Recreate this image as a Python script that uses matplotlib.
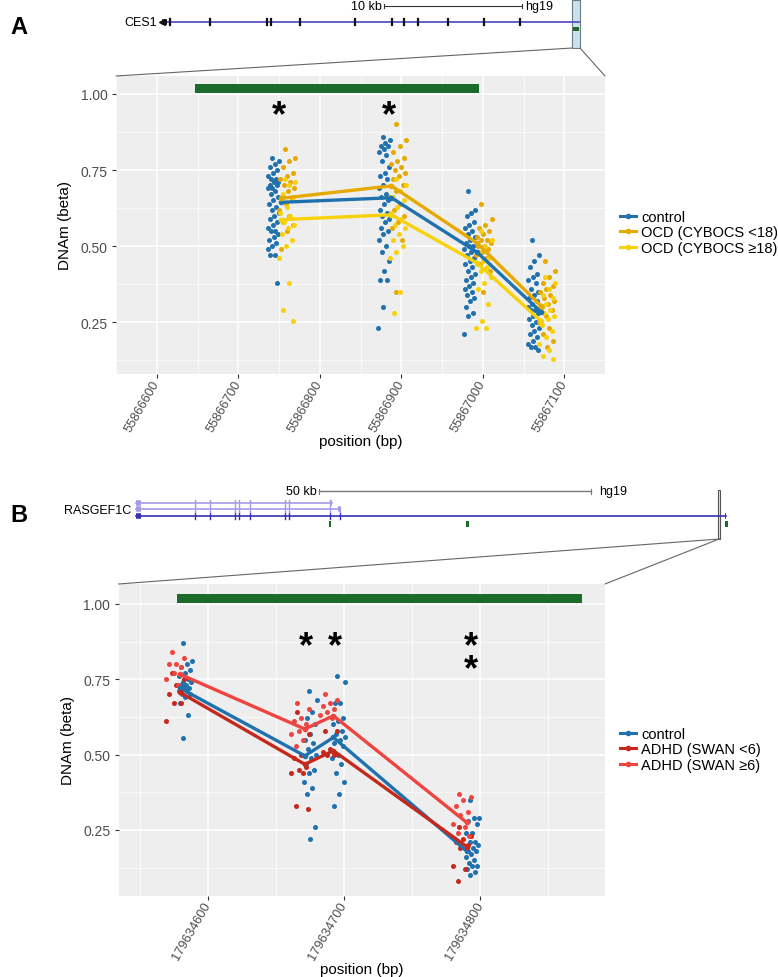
import matplotlib
matplotlib.use("Agg")
import matplotlib.pyplot as plt
from matplotlib.lines import Line2D
from matplotlib.patches import Rectangle, ConnectionPatch
import numpy as np

plt.rcParams['font.family'] = ['Liberation Sans', 'DejaVu Sans']

# ---------------- panel A : CES1 / OCD ----------------
a_cpg = [55866752, 55866888, 55866993, 55867071]
a_ctrl = [
    [0.79, 0.78, 0.77, 0.76, 0.75, 0.74, 0.73, 0.72, 0.72, 0.71, 0.71, 0.70, 0.70, 0.69, 0.69, 0.68, 0.67, 0.66, 0.65, 0.64,
     0.63, 0.62, 0.61, 0.60, 0.59, 0.58, 0.57, 0.56, 0.55, 0.55, 0.54, 0.53, 0.52, 0.51, 0.50, 0.49, 0.47, 0.47, 0.38],
    [0.86, 0.85, 0.84, 0.83, 0.83, 0.82, 0.81, 0.80, 0.78, 0.76, 0.74, 0.73, 0.72, 0.70, 0.69, 0.67, 0.66, 0.65, 0.64,
     0.62, 0.61, 0.60, 0.59, 0.58, 0.56, 0.55, 0.54, 0.52, 0.50, 0.48, 0.45, 0.42, 0.39, 0.39, 0.30, 0.23],
    [0.68, 0.62, 0.61, 0.60, 0.58, 0.57, 0.56, 0.55, 0.54, 0.53, 0.52, 0.51, 0.50, 0.50, 0.49, 0.48, 0.47, 0.46, 0.45,
     0.44, 0.43, 0.42, 0.41, 0.40, 0.39, 0.38, 0.37, 0.36, 0.35, 0.34, 0.33, 0.32, 0.30, 0.28, 0.27, 0.21],
    [0.52, 0.47, 0.45, 0.43, 0.41, 0.40, 0.39, 0.38, 0.36, 0.35, 0.34, 0.33, 0.32, 0.31, 0.30, 0.29, 0.29, 0.28, 0.27,
     0.26, 0.25, 0.24, 0.23, 0.22, 0.21, 0.20, 0.19, 0.18, 0.17, 0.17, 0.16],
]
a_ocd_lo = [
    [0.82, 0.79, 0.78, 0.76, 0.74, 0.73, 0.72, 0.71, 0.70, 0.69, 0.68, 0.66, 0.65, 0.64, 0.62, 0.60, 0.58, 0.57, 0.55, 0.49],
    [0.90, 0.85, 0.83, 0.81, 0.79, 0.78, 0.77, 0.76, 0.75, 0.74, 0.73, 0.72, 0.70, 0.68, 0.66, 0.64, 0.62, 0.60, 0.58,
     0.56, 0.52, 0.35],
    [0.64, 0.59, 0.57, 0.56, 0.55, 0.54, 0.53, 0.52, 0.52, 0.51, 0.50, 0.50, 0.49, 0.48, 0.47, 0.46, 0.44, 0.42, 0.35],
    [0.45, 0.42, 0.40, 0.38, 0.37, 0.36, 0.35, 0.34, 0.33, 0.32, 0.31, 0.30, 0.29, 0.27, 0.25, 0.23, 0.21, 0.19, 0.17],
]
a_ocd_hi = [
    [0.72, 0.71, 0.70, 0.67, 0.66, 0.63, 0.61, 0.60, 0.58, 0.57, 0.56, 0.54, 0.52, 0.50, 0.46, 0.38, 0.29, 0.255],
    [0.72, 0.70, 0.68, 0.66, 0.65, 0.63, 0.61, 0.59, 0.57, 0.56, 0.54, 0.52, 0.50, 0.48, 0.46, 0.35, 0.28],
    [0.55, 0.52, 0.50, 0.48, 0.46, 0.45, 0.44, 0.43, 0.42, 0.40, 0.38, 0.36, 0.31, 0.255, 0.23, 0.23],
    [0.40, 0.38, 0.36, 0.34, 0.33, 0.31, 0.30, 0.29, 0.28, 0.27, 0.26, 0.24, 0.22, 0.20, 0.18, 0.16, 0.14, 0.13],
]
a_ctrl_mean = [0.644, 0.659, 0.48, 0.285]
a_ocd_lo_mean = [0.657, 0.698, 0.51, 0.305]
a_ocd_hi_mean = [0.587, 0.603, 0.445, 0.255]
a_region = [55866647, 55866996]
a_stars = [(55866750, 1), (55866885, 1)]
a_xticks = [55866600, 55866700, 55866800, 55866900, 55867000, 55867100]
a_labels = ['control', 'OCD (CYBOCS <18)', 'OCD (CYBOCS \u226518)']

# ---------------- panel B : RASGEF1C / ADHD ----------------
b_cpg = [179634579, 179634671, 179634692, 179634790]
b_ctrl = [
    [0.87, 0.81, 0.80, 0.79, 0.78, 0.77, 0.76, 0.75, 0.74, 0.74, 0.73, 0.73, 0.72, 0.72, 0.71, 0.71, 0.70, 0.70, 0.69,
     0.67, 0.63, 0.555],
    [0.71, 0.68, 0.64, 0.62, 0.60, 0.57, 0.55, 0.54, 0.52, 0.50, 0.49, 0.47, 0.45, 0.44, 0.41, 0.39, 0.37, 0.26, 0.22],
    [0.76, 0.74, 0.67, 0.67, 0.62, 0.61, 0.60, 0.58, 0.57, 0.56, 0.55, 0.54, 0.53, 0.50, 0.49, 0.47, 0.44, 0.41, 0.37, 0.33],
    [0.35, 0.29, 0.29, 0.28, 0.27, 0.24, 0.24, 0.21, 0.21, 0.20, 0.19, 0.18, 0.18, 0.17, 0.16, 0.15, 0.14, 0.13, 0.13,
     0.12, 0.11, 0.10],
]
b_adhd_lo = [
    [0.77, 0.75, 0.73, 0.70, 0.67, 0.67, 0.61],
    [0.64, 0.57, 0.50, 0.49, 0.46, 0.45, 0.44, 0.44, 0.33, 0.32],
    [0.58, 0.58, 0.52, 0.51, 0.50, 0.50],
    [0.26, 0.23, 0.22, 0.21, 0.20, 0.19, 0.13, 0.12, 0.08],
]
b_adhd_hi = [
    [0.84, 0.82, 0.80, 0.80, 0.79, 0.77, 0.75, 0.73],
    [0.67, 0.65, 0.62, 0.61, 0.60, 0.58, 0.57, 0.55, 0.53],
    [0.70, 0.68, 0.67, 0.66, 0.65, 0.64, 0.63, 0.62],
    [0.37, 0.36, 0.35, 0.33, 0.31, 0.30, 0.27, 0.26, 0.24, 0.23],
]
b_ctrl_mean = [0.721, 0.496, 0.557, 0.18]
b_adhd_lo_mean = [0.707, 0.468, 0.513, 0.195]
b_adhd_hi_mean = [0.767, 0.585, 0.629, 0.275]
b_region = [179634577, 179634875]
b_stars = [(179634672, 1), (179634693, 1), (179634793, 2)]
b_xticks = [179634600, 179634700, 179634800]
b_labels = ['control', 'ADHD (SWAN <6)', 'ADHD (SWAN \u22656)']

# ---------------- gene tracks (kb from gene start) ----------------
ces1_length = 30.3
ces1_exons = [0.58, 3.5, 7.67, 7.93, 10.0, 14.0, 16.7, 17.6, 18.6, 20.8, 23.4, 26.0]
ces1_view = [29.85, 30.4]
ras_tx_ends = [108.3, 37.4, 36.0]
ras_exons = [10.8, 13.6, 18.2, 18.9, 20.9, 27.3, 28.1, 35.6, 37.4]
ras_cpg_islands = [35.6, 60.8, 106.9, 108.3]
ras_view = 107.0

blue = '#1F72AE'
yel_dark = '#E5A900'
yel_light = '#F9D109'
red_dark = '#C6281B'
red_light = '#EE4540'
green = '#1B6B2A'

W, H = 778, 978
fig = plt.figure(figsize=(W / 100, H / 100), dpi=100)


def px_axes(left, top, right, bottom):
    return fig.add_axes([left / W, 1 - bottom / H, (right - left) / W, (bottom - top) / H])


def jitter(n, centre, half):
    k = np.arange(n)
    return centre + half * (2 * ((k * 0.618034 + 0.37) % 1) - 1)


def style_panel(ax, xticks, xlim, ylim):
    ax.set_facecolor('#EEEEEE')
    ax.set_xlim(xlim)
    ax.set_ylim(ylim)
    ax.set_xticks(xticks)
    ax.set_xticks([t + 50 for t in xticks] + [xticks[0] - 50], minor=True)
    ax.set_xticklabels([str(t) for t in xticks], rotation=60, ha='right', va='center',
                       rotation_mode='anchor', fontsize=9.3)
    ax.set_yticks([0.25, 0.5, 0.75, 1.0])
    ax.set_yticklabels(['0.25', '0.50', '0.75', '1.00'])
    ax.set_yticks([0.125, 0.375, 0.625, 0.875], minor=True)
    ax.grid(which='major', color='white', lw=1.1)
    ax.grid(which='minor', color='white', lw=0.5)
    ax.set_axisbelow(True)
    for s in ax.spines.values():
        s.set_visible(False)
    ax.tick_params(which='major', length=3, width=0.8, color='#333333', labelsize=10,
                   labelcolor='#4D4D4D', pad=3)
    ax.tick_params(axis='x', labelsize=9.3, pad=2)
    ax.tick_params(which='minor', length=0)
    ax.set_xlabel('position (bp)', fontsize=11, labelpad=0)
    ax.set_ylabel('DNAm (beta)', fontsize=11, labelpad=6)


def draw_groups(ax, cpg, groups, means, colors, offsets, halves):
    for vals, col, off, half in zip(groups, colors, offsets, halves):
        for x0, ys in zip(cpg, vals):
            ax.scatter(jitter(len(ys), x0 + off, half), ys, s=13, color=col, lw=0, zorder=3)
    for m, col in zip(means, colors):
        ax.plot(cpg, m, color=col, lw=2.4, marker='o', ms=3, zorder=4, solid_capstyle='round')


def draw_stars(ax, stars, y):
    for sx, n in stars:
        ax.text(sx, y, '\n'.join(['*'] * n), fontsize=26, fontweight='bold', ha='center',
                va='top', linespacing=0.55, zorder=5)


# ---- panel A ----
axA = px_axes(116, 77, 605, 375)
style_panel(axA, a_xticks, (55866597.5, 55867122.6), (0.080, 1.059))
axA.add_patch(Rectangle((a_region[0], 1.004), a_region[1] - a_region[0], 0.03,
                        facecolor=green, edgecolor='none', zorder=2))
draw_groups(axA, a_cpg, [a_ctrl, a_ocd_lo, a_ocd_hi],
            [a_ctrl_mean, a_ocd_lo_mean, a_ocd_hi_mean],
            [blue, yel_dark, yel_light], [-9, 8, 8], [7, 10, 10])
draw_stars(axA, a_stars, 0.985)

# ---- panel B ----
axB = px_axes(118.5, 585, 605, 896.7)
style_panel(axB, b_xticks, (179634534, 179634891.7), (0.032, 1.066))
axB.add_patch(Rectangle((b_region[0], 1.002), b_region[1] - b_region[0], 0.03,
                        facecolor=green, edgecolor='none', zorder=2))
draw_groups(axB, b_cpg, [b_ctrl, b_adhd_lo, b_adhd_hi],
            [b_ctrl_mean, b_adhd_lo_mean, b_adhd_hi_mean],
            [blue, red_dark, red_light], [4, -4, -4], [5, 7, 7])
draw_stars(axB, b_stars, 0.915)


# ---- legends ----
def legend(handles_cols, labels, top_px):
    hs = [Line2D([], [], color=c, lw=2.2, marker='o', ms=3) for c in handles_cols]
    fig.legend(hs, labels, loc='upper left', bbox_to_anchor=(614 / W, 1 - top_px / H),
               frameon=False, fontsize=10.5, handlelength=1.1, handletextpad=0.35,
               labelspacing=0.1, numpoints=1, borderaxespad=0)


legend([blue, yel_dark, yel_light], a_labels, 205)
legend([blue, red_dark, red_light], b_labels, 722)

# ---- gene track A ----
trA = px_axes(100, 0, 600, 50)
trA.set_xlim((100 - 162) / 13.75, (600 - 162) / 13.75)
trA.set_ylim(-1.6875, 1.4375)
trA.axis('off')
trA.plot([0, ces1_length], [0, 0], color='#5A50C8', lw=1.3)
trA.plot([0, 0.35], [0, 0], color='#111111', lw=4, solid_capstyle='butt')
trA.plot([0], [0], marker='<', color='#111111', ms=4)
for ex in ces1_exons:
    trA.plot([ex, ex], [-0.2, 0.2], color='#111111', lw=1.6)
trA.plot([16.15, 26.15], [1, 1], color='#333333', lw=0.8)
trA.plot([16.15, 16.15], [0.85, 1.15], color='#333333', lw=0.8)
trA.plot([26.15, 26.15], [0.85, 1.15], color='#333333', lw=0.8)
trA.text(16.0, 1, '10 kb', ha='right', va='center', fontsize=9)
trA.text(26.4, 1, 'hg19', ha='left', va='center', fontsize=9)
trA.text(-0.35, 0, 'CES1', ha='right', va='center', fontsize=9)
trA.add_patch(Rectangle((ces1_view[0], -1.625), ces1_view[1] - ces1_view[0], 3.0,
                        facecolor='#C7E3EE', edgecolor='#6E7A80', lw=0.8))
trA.add_patch(Rectangle((ces1_view[0] + 0.05, -0.56), ces1_view[1] - ces1_view[0] - 0.1, 0.25,
                        facecolor=green, edgecolor='none'))
for xa, xb in [((ces1_view[0], -1.625), (0, 1)), ((ces1_view[1], -1.625), (1, 1))]:
    fig.add_artist(ConnectionPatch(xyA=xa, coordsA='data', axesA=trA, xyB=xb,
                                   coordsB='axes fraction', axesB=axA, color='#666666', lw=0.8))

# ---- gene track B ----
trB = px_axes(100, 480, 740, 545)
trB.set_xlim((100 - 136) / 5.45, (740 - 136) / 5.45)
trB.set_ylim(-4.31, 5.69)
trB.axis('off')
tx_cols = ['#3A2FB0', '#A49CE6', '#A49CE6']
for row, (end, col) in enumerate(zip(ras_tx_ends, tx_cols)):
    trB.plot([0, end], [row, row], color=col, lw=1.2)
    trB.plot([0, 0.9], [row, row], color=col, lw=4, solid_capstyle='butt')
    for ex in ras_exons:
        if ex <= end:
            trB.plot([ex, ex], [row - 0.45, row + 0.45], color=col, lw=1.0)
    trB.plot([end - 0.3, end], [row, row], color=col, lw=4, solid_capstyle='butt')
for ci in ras_cpg_islands:
    trB.add_patch(Rectangle((ci - 0.2, -1.65), 0.45, 0.9, facecolor=green, edgecolor='none'))
trB.plot([33.5, 83.5], [3.8, 3.8], color='#777777', lw=1.0)
trB.plot([33.5, 33.5], [3.4, 4.2], color='#777777', lw=0.8)
trB.plot([83.5, 83.5], [3.4, 4.2], color='#777777', lw=0.8)
trB.text(33.2, 3.8, '50 kb', ha='right', va='center', fontsize=9)
trB.text(85.0, 3.8, 'hg19', ha='left', va='center', fontsize=9)
trB.text(-0.9, 0.9, 'RASGEF1C', ha='right', va='center', fontsize=9)
trB.add_patch(Rectangle((ras_view - 0.2, -3.54), 0.4, 7.6,
                        facecolor='#D6EAF2', edgecolor='#555555', lw=0.8))
for xb in [(0, 1), (1, 1)]:
    fig.add_artist(ConnectionPatch(xyA=(ras_view, -3.54), coordsA='data', axesA=trB, xyB=xb,
                                   coordsB='axes fraction', axesB=axB, color='#666666', lw=0.8))

fig.text(10 / W, 1 - 27 / H, 'A', fontsize=17, fontweight='bold', va='center')
fig.text(10 / W, 1 - 516 / H, 'B', fontsize=17, fontweight='bold', va='center')

fig.savefig('out.png', dpi=100)
